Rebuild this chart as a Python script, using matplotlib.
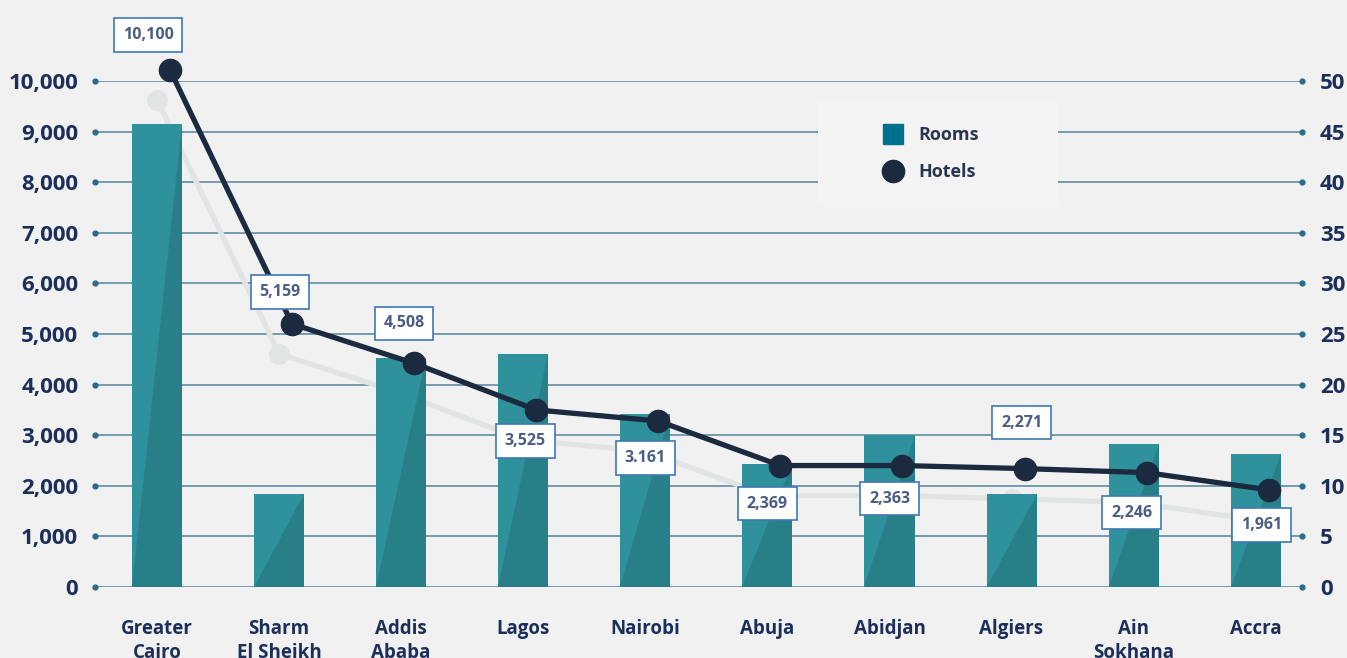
import numpy as np
import matplotlib.pyplot as plt
import matplotlib.transforms as mtrans
from matplotlib.patches import Polygon, Rectangle
from matplotlib.lines import Line2D

plt.rcParams['font.family'] = ['Open Sans', 'DejaVu Sans']

cities = ['Greater\nCairo', 'Sharm\nEl Sheikh', 'Addis\nAbaba', 'Lagos', 'Nairobi',
          'Abuja', 'Abidjan', 'Algiers', 'Ain\nSokhana', 'Accra']
rooms = [9150, 1840, 4520, 4600, 3420, 2430, 3000, 1840, 2830, 2630]
hotels = [51.1, 26.0, 22.1, 17.5, 16.4, 12.0, 12.0, 11.7, 11.3, 9.6]
box_labels = ['10,100', '5,159', '4,508', '3,525', '3.161', '2,369', '2,363', '2,271', '2,246', '1,961']
left_ticks = [0, 1000, 2000, 3000, 4000, 5000, 6000, 7000, 8000, 9000, 10000]
right_ticks = [0, 5, 10, 15, 20, 25, 30, 35, 40, 45, 50]

# where each boxed label sits relative to its hotel point (pixels)
lab_off = [(-22, 35), (-12, 32), (-10, 40), (-11, -31), (-13, -37),
           (-13, -38), (-13, -33), (-3, 46), (-15, -40), (-7, -35)]

bg = '#f1f1f1'
navy = '#1b2f5a'
teal = '#2f919b'
teal_dk = '#287f88'
line_c = '#1b2a3e'
grid_c = '#6a94ab'

fig = plt.figure(figsize=(13.47, 6.58), dpi=100, facecolor=bg)
ax = fig.add_axes([0.0705, 0.1079, 0.896, 0.769])
ax.set_facecolor(bg)
x = np.arange(len(cities))
ax.set_xlim(-0.508, 9.378)
ax.set_ylim(0, 10000)

ax.set_yticks(left_ticks)
ax.set_yticklabels(['{:,}'.format(v) for v in left_ticks])
ax.yaxis.grid(True, color=grid_c, linewidth=1.3)
ax.set_axisbelow(True)
ax.tick_params(axis='y', length=0, pad=12, labelsize=16, labelcolor=navy)
for t in ax.get_yticklabels():
    t.set_fontweight('bold')
ax.set_xticks(x)
ax.set_xticklabels(cities, fontsize=13.5, fontweight='bold', color=navy, linespacing=1.3, va='top')
ax.tick_params(axis='x', length=0, pad=23)
for s in ax.spines.values():
    s.set_visible(False)

# dots at the ends of the gridlines
xl = ax.get_xlim()
for v in left_ticks:
    ax.plot([xl[0], xl[1]], [v, v], 'o', color='#2c6c8a', markersize=3.5, clip_on=False, zorder=3)

bars = ax.bar(x, rooms, width=0.41, color=teal, zorder=2)
for b in bars:
    x0 = b.get_x()
    x1 = x0 + b.get_width()
    h = b.get_height()
    ax.add_patch(Polygon([(x0, 0), (x1, 0), (x1, h)], closed=True, color=teal_dk, zorder=2.1, lw=0))

ax2 = ax.twinx()
ax2.set_ylim(0, 50)
ax2.set_yticks(right_ticks)
ax2.set_yticklabels([str(v) for v in right_ticks])
ax2.tick_params(axis='y', length=0, pad=13, labelsize=16, labelcolor=navy)
for t in ax2.get_yticklabels():
    t.set_fontweight('bold')
for s in ax2.spines.values():
    s.set_visible(False)

dark_tr = mtrans.offset_copy(ax2.transData, fig=fig, x=13, y=0, units='dots')

# faint shadow copy of the hotels line
ax.plot(x, [h * 200 for h in hotels], color='#e2e3e3', linewidth=3.8, marker='o', markersize=14,
        transform=mtrans.offset_copy(ax.transData, fig=fig, x=0, y=-30, units='dots'),
        zorder=1.5, clip_on=False)
ax2.plot(x, hotels, color=line_c, linewidth=3.8, marker='o', markersize=16, transform=dark_tr,
         clip_on=False, zorder=3)

for i, lab in enumerate(box_labels):
    ax2.annotate(lab, xy=(x[i], hotels[i]), xycoords=dark_tr, xytext=lab_off[i],
                 textcoords='offset pixels', ha='center', va='center', fontsize=11.5,
                 fontweight='bold', color='#4b5c85', zorder=5, annotation_clip=False,
                 bbox=dict(boxstyle='square,pad=0.55', fc='white', ec='#3f78b5', lw=1.2))

# legend panel
ax2.add_patch(Rectangle((0.599, 0.755), 0.199, 0.207, transform=ax2.transAxes,
                        facecolor='#f3f3f4', edgecolor='none', zorder=4))
handles = [Line2D([], [], marker='s', linestyle='none', color='#00708f', markersize=15),
           Line2D([], [], marker='o', linestyle='none', color=line_c, markersize=16)]
leg = ax2.legend(handles, ['Rooms', 'Hotels'], loc='upper left', bbox_to_anchor=(0.639, 0.929),
                 frameon=False, fontsize=13, handletextpad=0.4, labelspacing=1.05, borderpad=0)
for t in leg.get_texts():
    t.set_fontweight('bold')
    t.set_color('#2a3550')
leg.set_zorder(6)

fig.savefig('out.png', dpi=100, facecolor=bg)
